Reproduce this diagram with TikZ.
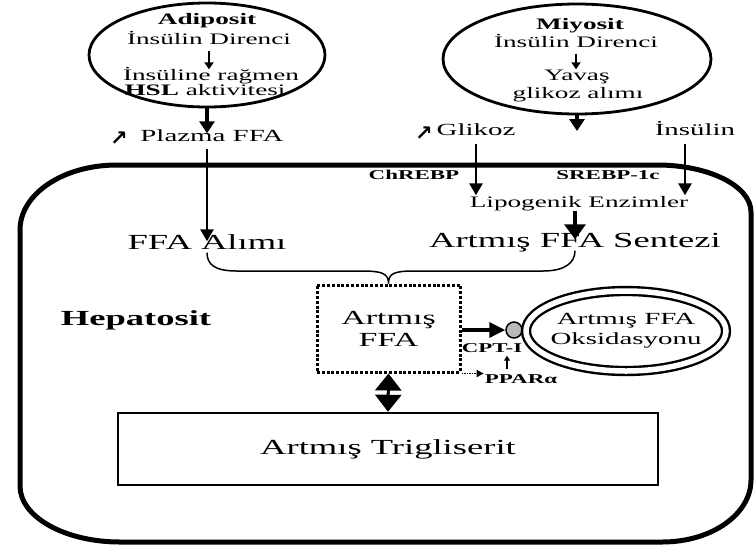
\documentclass[tikz,border=0pt]{standalone}
\usepackage{fontspec}
\setmainfont{Liberation Serif}[FakeStretch=1.7]
\newfontfamily\arrowfont{DejaVu Sans}
\usetikzlibrary{arrows.meta,shapes.geometric}
\newcommand\sizeL{\fontsize{21.5}{22}\selectfont}
\newcommand\sizeB{\fontsize{20}{22}\selectfont}
\newcommand\sizeM{\fontsize{17}{20}\selectfont}
\newcommand\sizeE{\fontsize{16}{18}\selectfont}
\newcommand\sizeS{\fontsize{13.5}{15}\selectfont}

\begin{document}
\begin{tikzpicture}
[x=1pt, y=-1pt,
  textDecorate/.style={inner sep=1pt, text height=0.7em, text depth=0.2em},
  cellDecorate/.style={line width=5pt, line join=round},
  ellipseDecorate/.style={shape=ellipse, draw, line width=2.8pt, inner sep=0pt},
  smallArrow/.style={-{Triangle[width=9pt,length=7pt]}, line width=1.8pt, shorten <=3pt, shorten >=3pt},
  thickArrow/.style={-{Triangle[width=15pt,length=12pt]}, line width=3.2pt},
  mediumArrow/.style={-{Triangle[width=13pt,length=12pt]}, line width=2.8pt},
  bigArrow/.style={-{Triangle[width=21pt,length=15pt]}, line width=3.5pt},
  braceDecorate/.style={line width=1.5pt}]
\useasboundingbox (0,0) rectangle (754,550);

%% hepatosit cell
\draw[cellDecorate] (20,230) .. controls (20,194) and (63,165) .. (117,165)
  -- (657,165) .. controls (709,165) and (751,186) .. (751,212)
  -- (751,480) .. controls (751,514) and (712,542) .. (662,542)
  -- (120,542) .. controls (65,542) and (20,517) .. (20,486) -- cycle;

%% adiposit and miyosit
\node (adiposit) at (207,55) [ellipseDecorate, minimum width=236pt, minimum height=104pt] {};
\node (miyosit) at (577,59) [ellipseDecorate, minimum width=268pt, minimum height=110pt] {};

\foreach \nodename/\x/\y/\txt in {
  adipName/207/22/\textbf{Adiposit}, adipRes/209/42/İnsülin Direnci,
  adipHsl/211/78/İnsüline rağmen, adipAkt/205/93/\textbf{HSL} aktivitesi,
  miyName/580/27/\textbf{Miyosit}, miyRes/576/45/İnsülin Direnci,
  miyYav/577/78/Yavaş, miyAlim/578/96/glikoz alımı,
  lipogenik/579/205/Lipogenik Enzimler}
{
  \node (\nodename) at (\x,\y) [textDecorate, font=\sizeE] {\txt};
}

%% labels
\foreach \nodename/\x/\y/\txt in {
  plazma/212/139/Plazma FFA, glikoz/476/133/Glikoz, insulin/695/133/İnsülin}
{
  \node (\nodename) at (\x,\y) [textDecorate, font=\sizeM] {\txt};
}
\foreach \nodename/\x/\y in {plazmaUp/119/139, glikozUp/424/134}
{
  \node (\nodename) at (\x,\y) [inner sep=0pt, font=\arrowfont\bfseries\fontsize{21}{21}\selectfont] {↗};
}
\foreach \nodename/\x/\y/\txt in {
  ffaAlim/207/247/FFA Alımı, sentezi/575/245/Artmış FFA Sentezi,
  hepatosit/136/323/\textbf{Hepatosit}}
{
  \node (\nodename) at (\x,\y) [textDecorate, font=\sizeL] {\txt};
}
\foreach \nodename/\x/\y/\txt in {
  chrebp/414/177/ChREBP, srebp/608/177/SREBP-1c,
  cptLabel/492/350/CPT-I, ppar/521/381/PPARα}
{
  \node (\nodename) at (\x,\y) [textDecorate, font=\sizeS\bfseries] {\txt};
}

\node (ffaBox) at (388.5,328.5) [draw, line width=3pt, dash pattern=on 3pt off 1.8pt,
  minimum width=143pt, minimum height=87pt, align=center, font=\sizeB] {Artmış\\FFA};
\node (cpt) at (514,330) [circle, draw, fill=gray!55, line width=1.5pt, minimum size=16pt, inner sep=0pt] {};
\node (oks) at (626,331) [ellipseDecorate, line width=2.4pt, double, double distance=5.5pt, minimum width=200pt, minimum height=80pt] {};
\node (oksText) at (oks.center) [align=center, font=\sizeM] {Artmış FFA\\Oksidasyonu};
\node (trig) at (388,449) [draw, line width=2.5pt, minimum width=540pt, minimum height=72pt, font=\sizeL] {Artmış Trigliserit};

%% edges
\path
\foreach \startnode/\endnode in {adipRes/adipHsl, miyRes/miyYav}
{
  (\startnode.south) edge[smallArrow] (\startnode.south |- \endnode.north)
};
\draw[thickArrow] (adiposit.south) -- (adiposit.south |- plazma.north);
\coordinate (miyEnd) at (577,131);
\draw[thickArrow] (miyosit.south) -- (miyEnd);
\draw[mediumArrow, shorten <=4pt] (plazma.south -| ffaAlim.north) -- (ffaAlim.north);
\draw[mediumArrow, shorten <=5pt, shorten >=4pt] (glikoz.south) -- (glikoz.south |- lipogenik.north);
\draw[mediumArrow, shorten <=5pt, shorten >=4pt] ([xshift=-10pt]insulin.south) -- ([xshift=-10pt]insulin.south |- lipogenik.north);
\draw[bigArrow] (lipogenik.south -| sentezi.north) -- (sentezi.north);

%% brace
\draw[braceDecorate] (ffaAlim.south) .. controls +(0,12) and +(-22,0) .. (237,271)
  -- (362,271) .. controls +(20,0) and +(0,-10) .. (ffaBox.north)
  .. controls +(0,-10) and +(-20,0) .. (414,271)
  -- (543,271) .. controls +(22,0) and +(0,12) .. (sentezi.south);

\draw[-{Triangle[width=15pt,length=16pt]}, line width=3.5pt] (ffaBox.east |- cpt.west) -- (cpt.west);
\draw[-{Triangle[width=6pt,length=5pt]}, line width=1.2pt, shorten <=6pt] ([xshift=-14pt]ppar.north) -- ([xshift=-14pt]ppar.north |- cptLabel.south);
\draw[-{Triangle[width=7pt,length=7pt]}, line width=1.6pt, dash pattern=on 1.5pt off 1pt] (ffaBox.south east) -- (ffaBox.south east -| ppar.west);
\draw[{Triangle[width=26pt,length=17pt]}-{Triangle[width=26pt,length=17pt]}, line width=3pt] (ffaBox.south) -- (trig.north);
\end{tikzpicture}
\end{document}
